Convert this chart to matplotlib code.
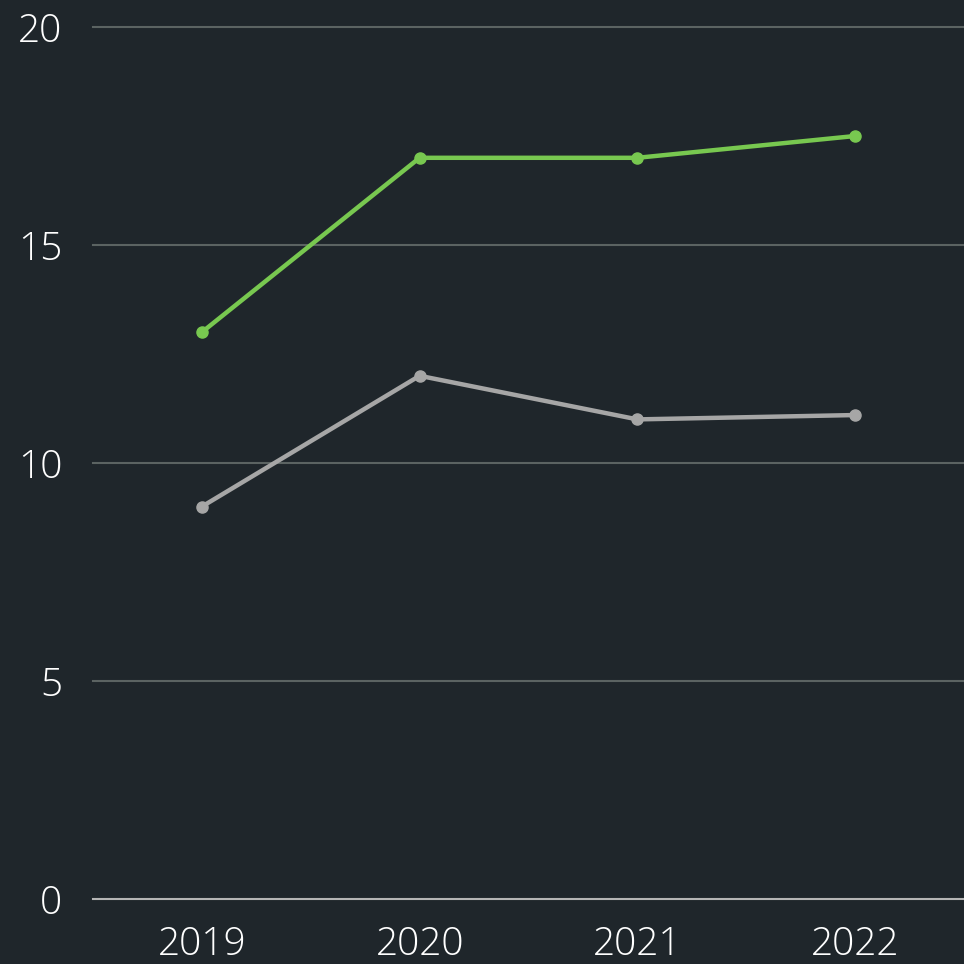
import matplotlib
matplotlib.use("Agg")
import matplotlib.pyplot as plt

years = ["2019", "2020", "2021", "2022"]
green_vals = [13.0, 17.0, 17.0, 17.5]
gray_vals = [9.0, 12.0, 11.0, 11.1]
y_ticks = [0, 5, 10, 15, 20]

bg = "#1f262b"
plt.rcParams['font.family'] = ['Open Sans', 'DejaVu Sans']

fig = plt.figure(figsize=(9.64, 9.64), dpi=100, facecolor=bg)
ax = fig.add_axes([93 / 964, 65 / 964, 871 / 964, 872 / 964])
ax.set_facecolor(bg)

x = range(len(years))
ax.plot(x, green_vals, color="#78c850", lw=3.2, marker="o", ms=8, zorder=3, clip_on=False)
ax.plot(x, gray_vals, color="#a6a6a6", lw=3.2, marker="o", ms=8, zorder=3, clip_on=False)

ax.set_xlim(-0.5, 3.5)
ax.set_ylim(0, 20)
ax.set_yticks(y_ticks)
ax.set_xticks(list(x))
ax.set_xticklabels(years)

for t in y_ticks:
    col = "#b5b5b5" if t == 0 else "#5b6362"
    ax.axhline(t, color=col, lw=1.5, zorder=1, clip_on=False)

for s in ax.spines.values():
    s.set_visible(False)
ax.tick_params(length=0, colors="white", labelsize=28)
ax.tick_params(axis="y", pad=22)
ax.tick_params(axis="x", pad=19)
for lab in ax.get_xticklabels() + ax.get_yticklabels():
    lab.set_fontweight("light")
    lab.set_color("white")

fig.savefig("out.png", dpi=100, facecolor=bg)
